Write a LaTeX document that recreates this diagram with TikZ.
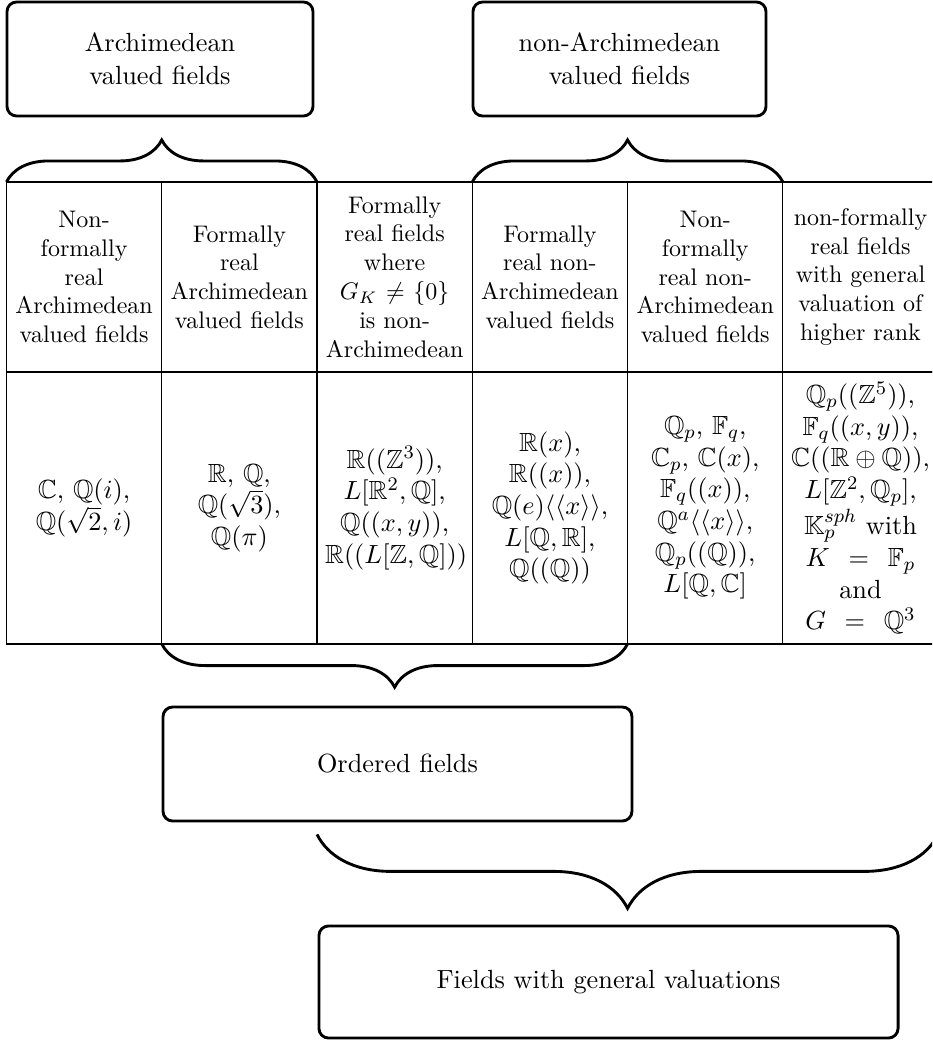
\documentclass[tikz,border=0pt]{standalone}
\usepackage{amsmath,amssymb}
\usetikzlibrary{positioning,decorations.pathreplacing}

\tikzset{
  cell/.style={draw, line width=0.5pt, minimum width=64.7pt, text width=58pt,
    inner xsep=0pt, outer sep=0pt, align=center},
  headcell/.style={cell, minimum height=79.2pt},
  valcell/.style={cell, minimum height=113.3pt, font=\fontsize{10.95}{13.2}\selectfont},
  groupbox/.style={draw, line width=1.2pt, rounded corners=4pt, align=center,
    minimum height=47.5pt, font=\fontsize{10.95}{13.6}\selectfont},
  curly/.style={decorate, line width=1.2pt, decoration={brace, amplitude=#1}}
}

\begin{document}
\begin{tikzpicture}

\newcommand\PX{0.41667pt}

\useasboundingbox (0,0) rectangle (932*\PX, -1040*\PX);
\clip (0,0) rectangle (932*\PX, -1040*\PX);

%% header row
\node[headcell] (h1) at (84.1*\PX, -277*\PX) {Non-\\formally\\real\\Archimedean\\valued fields};
\node[headcell, right=0pt of h1] (h2) {Formally\\real\\Archimedean\\valued fields};
\node[headcell, right=0pt of h2] (h3) {Formally\\real fields\\where\\$G_K \neq \{0\}$\\is non-\\Archimedean};
\node[headcell, right=0pt of h3] (h4) {Formally\\real non-\\Archimedean\\valued fields};
\node[headcell, right=0pt of h4] (h5) {Non-\\formally\\real non-\\Archimedean\\valued fields};
\node[headcell, right=0pt of h5] (h6) {non-formally\\real fields\\with general\\valuation of\\higher rank};

%% example row
\node[valcell, below=0pt of h1] (v1) {$\mathbb{C}$, $\mathbb{Q}(i)$,\\ $\mathbb{Q}(\sqrt{2},i)$};
\node[valcell, below=0pt of h2] (v2) {$\mathbb{R}$, $\mathbb{Q}$,\\ $\mathbb{Q}(\sqrt{3})$,\\ $\mathbb{Q}(\pi)$};
\node[valcell, below=0pt of h3] (v3) {$\mathbb{R}((\mathbb{Z}^3))$,\\ $L[\mathbb{R}^2,\mathbb{Q}]$,\\ $\mathbb{Q}((x,y))$,\\ $\mathbb{R}((L[\mathbb{Z},\mathbb{Q}]))$};
\node[valcell, below=0pt of h4] (v4) {$\mathbb{R}(x)$,\\ $\mathbb{R}((x))$,\\ $\mathbb{Q}(e)\langle\langle x\rangle\rangle$,\\ $L[\mathbb{Q},\mathbb{R}]$,\\ $\mathbb{Q}((\mathbb{Q}))$};
\node[valcell, below=0pt of h5] (v5) {$\mathbb{Q}_p$, $\mathbb{F}_q$,\\ $\mathbb{C}_p$, $\mathbb{C}(x)$,\\ $\mathbb{F}_q((x))$,\\ $\mathbb{Q}^a\langle\langle x\rangle\rangle$,\\ $\mathbb{Q}_p((\mathbb{Q}))$,\\ $L[\mathbb{Q},\mathbb{C}]$};
\node[valcell, below=0pt of h6] (v6) {$\mathbb{Q}_p((\mathbb{Z}^5))$,\\ $\mathbb{F}_q((x,y))$,\\ $\mathbb{C}((\mathbb{R}\oplus\mathbb{Q}))$,\\ $L[\mathbb{Z}^2,\mathbb{Q}_p]$,\\ $\mathbb{K}_p^{sph}$ with\\ $K\;=\;\mathbb{F}_p$\\ and\\ $G\;=\;\mathbb{Q}^3$};

%% groups
\node[groupbox, minimum width=127.5pt] (arch) at (160*\PX, -59*\PX) {Archimedean\\valued fields};
\node[groupbox, minimum width=122.1pt] (nonarch) at (619.5*\PX, -59*\PX) {non-Archimedean\\valued fields};
\node[groupbox, minimum width=195.4pt] (ordered) at (397.5*\PX, -764*\PX) {Ordered fields};
\node[groupbox, minimum width=241.3pt, minimum height=46.7pt] (general) at (608.5*\PX, -982*\PX) {Fields with general valuations};

%% braces
\draw[curly=17.5pt] (h1.north west) -- (h2.north east);
\draw[curly=17.5pt] (h4.north west) -- (h5.north east);
\draw[curly=18pt] (v4.south east) -- (v2.south west);

\path (ordered.south -| v6.south east) ++(0,-5pt) coordinate (gright);
\path (ordered.south -| v3.south west) ++(0,-5pt) coordinate (gleft);
\draw[curly=30.8pt] (gright) -- (gleft);

\end{tikzpicture}
\end{document}
